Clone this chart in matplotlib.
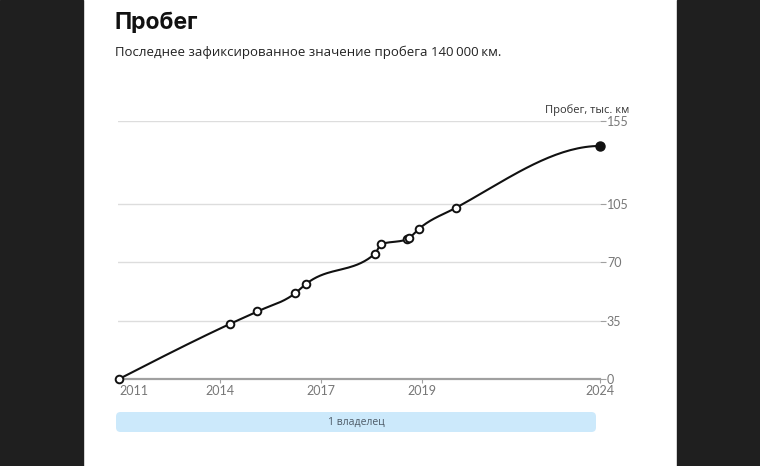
import numpy as np
import matplotlib
matplotlib.use("Agg")
import matplotlib.pyplot as plt
from matplotlib.patches import FancyBboxPatch, Rectangle

# mileage records (decimal year, thousand km)
years = [2011.0, 2013.99, 2014.74, 2015.76, 2016.05, 2017.92, 2018.08,
         2018.78, 2018.84, 2019.10, 2020.11, 2024.0]
mileage = [0, 33, 40.6, 51.5, 57, 75.3, 80.9, 83.9, 84.7, 90.1, 102.9, 140]

tick_pos = [2011.0, 2013.73, 2016.46, 2019.2, 2024.0]
tick_labels = ["2011", "2014", "2017", "2019", "2024"]
y_ticks = [0, 35, 70, 105, 155]

title = "Пробег"
subtitle = "Последнее зафиксированное значение пробега 140\u202f000\u202fкм."
y_title = "Пробег, тыс. км"
owner_label = "1 владелец"


def monotone_curve(x, y, n=40):
    # hermite interpolation with monotone tangents, only used to draw the line
    x = np.asarray(x, float)
    y = np.asarray(y, float)
    h = np.diff(x)
    s = np.diff(y) / h
    t = np.zeros(len(x))
    for i in range(1, len(x) - 1):
        p = (s[i - 1] * h[i] + s[i] * h[i - 1]) / (h[i - 1] + h[i])
        t[i] = (np.sign(s[i - 1]) + np.sign(s[i])) * min(abs(s[i - 1]), abs(s[i]), 0.5 * abs(p))
    t[0] = (3 * s[0] - t[1]) / 2
    t[-1] = 0.0  # line flattens into the last record
    xs, ys = [], []
    for i in range(len(x) - 1):
        u = np.linspace(0, 1, n)
        h00 = 2 * u**3 - 3 * u**2 + 1
        h10 = u**3 - 2 * u**2 + u
        h01 = -2 * u**3 + 3 * u**2
        h11 = u**3 - u**2
        xs.append(x[i] + u * h[i])
        ys.append(h00 * y[i] + h10 * h[i] * t[i] + h01 * y[i + 1] + h11 * h[i] * t[i + 1])
    return np.concatenate(xs), np.concatenate(ys)


W, H = 760, 466
fig = plt.figure(figsize=(W / 100, H / 100), dpi=100)

# dark side panels
fig.patches.append(Rectangle((0, 0), 83 / W, 1, transform=fig.transFigure,
                             color="#1f1f1f", zorder=0))
fig.patches.append(Rectangle((677 / W, 0), 83 / W, 1, transform=fig.transFigure,
                             color="#1f1f1f", zorder=0))

fig.text(115 / W, 1 - 23 / H, title, fontsize=16.5, fontweight="bold",
         family=["Inter", "DejaVu Sans"], color="#111111", va="center")
fig.text(115 / W, 1 - 52 / H, subtitle, fontsize=9.5,
         family=["Open Sans", "DejaVu Sans"], color="#222222", va="center")
fig.text(629 / W, 1 - 110 / H, y_title, ha="right", va="center",
         fontsize=8, color="#333333", family=["Open Sans", "DejaVu Sans"])

ax_left, ax_right = 118 / W, 600 / W
ax_bottom, ax_top = 1 - 379 / H, 1 - 121 / H
ax = fig.add_axes([ax_left, ax_bottom, ax_right - ax_left, ax_top - ax_bottom])
x0 = 2011 - 1 / 481 * 13
ax.set_xlim(x0, 2024.0)
ax.set_ylim(0, 155)

for v in y_ticks[1:]:
    ax.axhline(v, color="#dddddd", lw=1, zorder=1)

for side in ["top", "left", "right"]:
    ax.spines[side].set_visible(False)
ax.spines["bottom"].set_color("#a0a0a0")
ax.spines["bottom"].set_linewidth(1.6)

ax.yaxis.tick_right()
ax.set_yticks(y_ticks)
ax.set_yticklabels([str(v) for v in y_ticks])
ax.tick_params(axis="y", length=4, color="#a0a0a0", labelcolor="#777777",
               labelsize=9, pad=1)
ax.set_xticks(tick_pos)
ax.set_xticklabels(tick_labels)
ax.tick_params(axis="x", length=3, color="#a0a0a0", labelcolor="#777777",
               labelsize=9, pad=1)
for lab in ax.get_xticklabels() + ax.get_yticklabels():
    lab.set_family(["Lato", "DejaVu Sans"])
ax.get_xticklabels()[0].set_horizontalalignment("left")

cx, cy = monotone_curve(years, mileage)
ax.plot(cx, cy, color="#111111", lw=1.5, zorder=3, clip_on=False)
ax.plot(years[:-1], mileage[:-1], "o", ms=5.5, mfc="white", mec="#111111",
        mew=1.4, zorder=4, clip_on=False)
ax.plot(years[-1:], mileage[-1:], "o", ms=6.5, color="#111111", zorder=4,
        clip_on=False)

# owners bar
bar = FancyBboxPatch((116 / W, 1 - 432 / H), (596 - 116) / W, 20 / H,
                     boxstyle="round,pad=0,rounding_size=0.006",
                     transform=fig.transFigure, facecolor="#cce9fb",
                     edgecolor="none", mutation_aspect=W / H)
fig.patches.append(bar)
fig.text(356 / W, 1 - 422 / H, owner_label, fontsize=7.5, color="#4d5a66",
         ha="center", va="center", family=["Open Sans", "DejaVu Sans"])

fig.savefig("out.png", dpi=100)
